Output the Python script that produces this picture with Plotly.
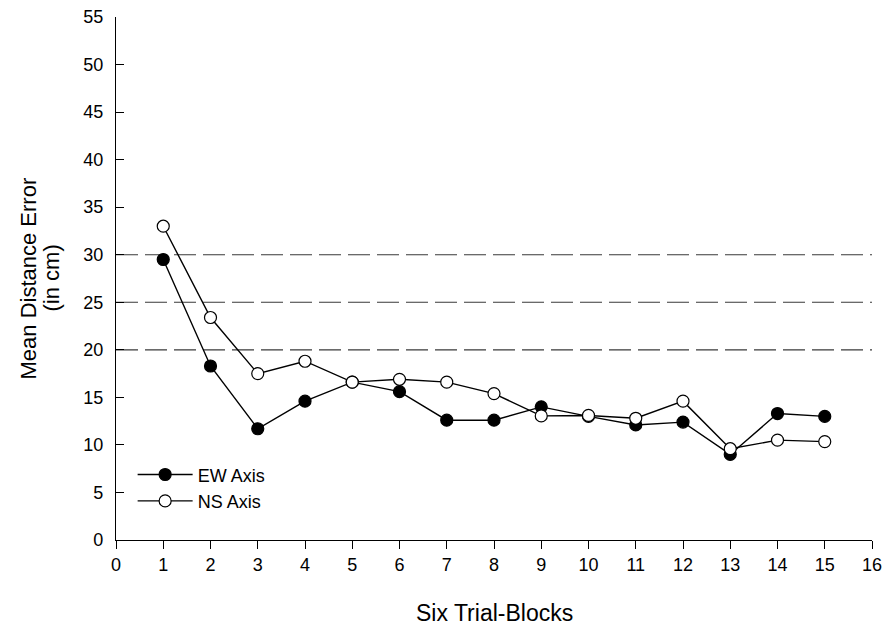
import plotly.graph_objects as go

blocks = list(range(1, 16))
ew_axis = [29.5, 18.3, 11.7, 14.6, 16.6, 15.6, 12.6, 12.6, 14.0, 13.0, 12.1, 12.4, 9.0, 13.3, 13.0]
ns_axis = [33.0, 23.4, 17.5, 18.8, 16.6, 16.9, 16.6, 15.4, 13.05, 13.1, 12.8, 14.6, 9.6, 10.5, 10.35]
reference_levels = [20, 25, 30]
x_ticks = list(range(0, 17))
y_ticks = list(range(0, 56, 5))
y_title_lines = ["Mean Distance Error", "(in cm)"]
x_title = "Six Trial-Blocks"

FONT = "Liberation Sans, Arial, sans-serif"

fig = go.Figure()
fig.add_trace(go.Scatter(
    x=blocks, y=ew_axis, name="EW Axis", mode="lines+markers",
    line=dict(color="black", width=1.4),
    marker=dict(symbol="circle", size=12, color="black", line=dict(color="black", width=1.2)),
))
fig.add_trace(go.Scatter(
    x=blocks, y=ns_axis, name="NS Axis", mode="lines+markers",
    line=dict(color="black", width=1.4),
    marker=dict(symbol="circle", size=12, color="white", line=dict(color="black", width=1.2)),
))

for lvl in reference_levels:
    fig.add_shape(type="line", xref="paper", x0=0, x1=1, yref="y", y0=lvl, y1=lvl,
                  line=dict(color="#3a3a3a", width=1.2, dash="22px,7px"), layer="below")

for i, line_text in enumerate(y_title_lines):
    fig.add_annotation(text=line_text, xref="paper", yref="paper",
                       x=0, y=0.5, xshift=-88 + 23 * i, xanchor="center", yanchor="middle",
                       textangle=-90, showarrow=False,
                       font=dict(family=FONT, size=22, color="black"))
fig.add_annotation(text=x_title, xref="paper", yref="paper",
                   x=0.5, y=0, yshift=-73, xanchor="center", yanchor="middle",
                   showarrow=False, font=dict(family=FONT, size=23, color="black"))

fig.update_layout(
    width=887, height=628,
    margin=dict(l=116, r=15, t=17, b=88),
    paper_bgcolor="white", plot_bgcolor="white",
    font=dict(family=FONT, size=18, color="black"),
    showlegend=True,
    legend=dict(x=0.022, y=0.16, xanchor="left", yanchor="top", bgcolor="rgba(0,0,0,0)",
                font=dict(family=FONT, size=18), itemwidth=55, tracegroupgap=0),
    xaxis=dict(range=[0, 16], tickmode="array", tickvals=x_ticks, showgrid=False, zeroline=False,
               showline=True, linecolor="black", linewidth=1.4, ticks="outside", ticklen=8,
               tickcolor="black", tickwidth=1.2, automargin=False),
    yaxis=dict(range=[0, 55], tickmode="array", tickvals=y_ticks, showgrid=False, zeroline=False,
               showline=True, linecolor="black", linewidth=1.4, ticks="inside", ticklen=8,
               tickcolor="black", tickwidth=1.2, ticklabelstandoff=8, automargin=False),
)

fig.write_html("out.html")
